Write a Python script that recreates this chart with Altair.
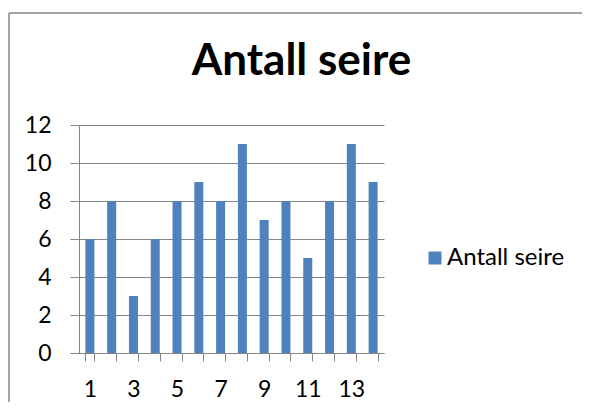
import altair as alt
import pandas as pd

categories = list(range(1, 15))
wins = [6, 8, 3, 6, 8, 9, 8, 11, 7, 8, 5, 8, 11, 9]
series_name = "Antall seire"
y_ticks = [0, 2, 4, 6, 8, 10, 12]
title_text = "Antall seire"

df = pd.DataFrame({"kamp": categories, "seire": wins, "serie": [series_name] * len(categories)})

GRAY = "#868686"
BLUE = "#4F81BD"
FONT = "Lato"

bars = alt.Chart(df).mark_bar().encode(
    x=alt.X(
        "kamp:O",
        scale=alt.Scale(paddingInner=0.587, paddingOuter=0.2935),
        axis=alt.Axis(
            title=None, labelAngle=0, tickBand="extent",
            labelExpr="datum.value % 2 == 1 ? datum.label : ''",
            tickSize=8, labelPadding=17, domainColor=GRAY, tickColor=GRAY,
        ),
    ),
    y=alt.Y(
        "seire:Q",
        scale=alt.Scale(domain=[0, 12]),
        axis=alt.Axis(
            values=y_ticks, title=None, grid=True, gridColor=GRAY, tickSize=9,
            labelPadding=19, domainColor=GRAY, tickColor=GRAY,
        ),
    ),
    color=alt.Color(
        "serie:N",
        scale=alt.Scale(range=[BLUE]),
        legend=alt.Legend(
            title=None, orient="none", legendX=344, legendY=121,
            symbolType="square", symbolSize=169, symbolStrokeWidth=0,
            labelFont=FONT, labelFontSize=24, labelColor="black", labelOffset=0,
        ),
    ),
)

frame_df = pd.DataFrame({"k": [0]})
frame_left = alt.Chart(frame_df).mark_rule(color=GRAY, strokeWidth=1.5).encode(
    x=alt.value(-70), y=alt.value(-112), y2=alt.value(300)
)
frame_top = alt.Chart(frame_df).mark_rule(color=GRAY, strokeWidth=1.5).encode(
    y=alt.value(-112), x=alt.value(-70), x2=alt.value(520)
)

chart = alt.layer(frame_left, frame_top, bars).properties(
    width=305,
    height=228,
    title=alt.TitleParams(
        title_text, font=FONT, fontSize=44, fontWeight="bold", color="black",
        anchor="middle", dx=70, offset=-107, baseline="alphabetic",
    ),
    autosize=alt.AutoSizeParams(type="none"),
    padding={"left": 71, "top": 117, "right": 198, "bottom": 49},
).configure_view(stroke=None).configure_axis(
    labelFont=FONT, labelFontSize=23, labelColor="black",
)

chart.save("out.html", embed_options={"renderer": "svg", "actions": False})
